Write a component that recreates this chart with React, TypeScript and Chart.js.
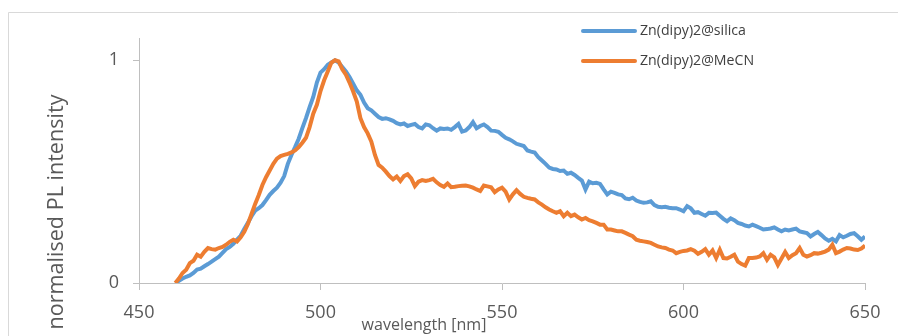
import React, { useEffect, useRef } from "react";
import { Chart, registerables } from "chart.js";

Chart.register(...registerables);

const wavelengths = [
  460, 461, 462, 463, 464, 465, 466, 467, 468, 469, 470, 471, 472, 473, 474, 475, 476, 477, 478, 479,
  480, 481, 482, 483, 484, 485, 486, 487, 488, 489, 490, 491, 492, 493, 494, 495, 496, 497, 498, 499,
  500, 501, 502, 503, 504, 505, 506, 507, 508, 509, 510, 511, 512, 513, 514, 515, 516, 517, 518, 519,
  520, 521, 522, 523, 524, 525, 526, 527, 528, 529, 530, 531, 532, 533, 534, 535, 536, 537, 538, 539,
  540, 541, 542, 543, 544, 545, 546, 547, 548, 549, 550, 551, 552, 553, 554, 555, 556, 557, 558, 559,
  560, 561, 562, 563, 564, 565, 566, 567, 568, 569, 570, 571, 572, 573, 574, 575, 576, 577, 578, 579,
  580, 581, 582, 583, 584, 585, 586, 587, 588, 589, 590, 591, 592, 593, 594, 595, 596, 597, 598, 599,
  600, 601, 602, 603, 604, 605, 606, 607, 608, 609, 610, 611, 612, 613, 614, 615, 616, 617, 618, 619,
  620, 621, 622, 623, 624, 625, 626, 627, 628, 629, 630, 631, 632, 633, 634, 635, 636, 637, 638, 639,
  640, 641, 642, 643, 644, 645, 646, 647, 648, 649, 650,
];

const silica = [
  0, 0.01, 0.02, 0.028, 0.034, 0.045, 0.06, 0.064, 0.075, 0.085, 0.096, 0.107, 0.118, 0.135, 0.152, 0.162, 0.176, 0.195, 0.212, 0.242,
  0.27, 0.3, 0.325, 0.336, 0.35, 0.372, 0.396, 0.413, 0.428, 0.45, 0.48, 0.535, 0.575, 0.61, 0.648, 0.695, 0.74, 0.79, 0.835, 0.9,
  0.945, 0.96, 0.98, 0.99, 1.0, 0.99, 0.97, 0.95, 0.925, 0.895, 0.865, 0.845, 0.81, 0.785, 0.775, 0.76, 0.745, 0.737, 0.74, 0.735,
  0.728, 0.718, 0.712, 0.716, 0.705, 0.71, 0.714, 0.7, 0.694, 0.712, 0.708, 0.695, 0.684, 0.694, 0.692, 0.694, 0.688, 0.7, 0.714, 0.68,
  0.685, 0.7, 0.722, 0.695, 0.705, 0.712, 0.7, 0.684, 0.683, 0.679, 0.665, 0.652, 0.645, 0.636, 0.625, 0.62, 0.615, 0.595, 0.59, 0.586,
  0.565, 0.55, 0.535, 0.518, 0.512, 0.51, 0.503, 0.505, 0.49, 0.495, 0.485, 0.472, 0.46, 0.42, 0.455, 0.448, 0.45, 0.445, 0.42, 0.398,
  0.41, 0.405, 0.398, 0.395, 0.38, 0.376, 0.383, 0.37, 0.364, 0.36, 0.362, 0.367, 0.35, 0.342, 0.34, 0.342, 0.338, 0.336, 0.336, 0.33,
  0.322, 0.345, 0.335, 0.315, 0.318, 0.31, 0.302, 0.315, 0.314, 0.316, 0.302, 0.288, 0.277, 0.29, 0.282, 0.27, 0.265, 0.258, 0.254, 0.262,
  0.255, 0.248, 0.24, 0.242, 0.245, 0.25, 0.24, 0.232, 0.24, 0.236, 0.24, 0.244, 0.232, 0.228, 0.224, 0.209, 0.22, 0.229, 0.215, 0.2,
  0.19, 0.198, 0.187, 0.215, 0.205, 0.212, 0.22, 0.224, 0.21, 0.194, 0.209,
];

const mecn = [
  0, 0.02, 0.045, 0.06, 0.089, 0.1, 0.127, 0.118, 0.14, 0.157, 0.152, 0.15, 0.157, 0.162, 0.172, 0.185, 0.194, 0.186, 0.205, 0.23,
  0.265, 0.31, 0.355, 0.395, 0.44, 0.475, 0.505, 0.535, 0.558, 0.57, 0.575, 0.58, 0.586, 0.595, 0.61, 0.63, 0.652, 0.7, 0.76, 0.8,
  0.862, 0.91, 0.95, 0.99, 1.0, 0.995, 0.96, 0.935, 0.9, 0.86, 0.815, 0.74, 0.7, 0.672, 0.635, 0.575, 0.53, 0.518, 0.5, 0.48,
  0.465, 0.478, 0.458, 0.48, 0.488, 0.47, 0.435, 0.455, 0.462, 0.458, 0.462, 0.468, 0.452, 0.44, 0.432, 0.447, 0.43, 0.432, 0.435, 0.437,
  0.438, 0.434, 0.428, 0.42, 0.413, 0.438, 0.434, 0.43, 0.408, 0.42, 0.428, 0.41, 0.375, 0.398, 0.417, 0.4, 0.387, 0.382, 0.378, 0.375,
  0.362, 0.352, 0.34, 0.33, 0.322, 0.315, 0.322, 0.3, 0.315, 0.3, 0.307, 0.295, 0.285, 0.292, 0.282, 0.277, 0.27, 0.262, 0.262, 0.24,
  0.24, 0.236, 0.232, 0.232, 0.225, 0.217, 0.21, 0.194, 0.19, 0.187, 0.184, 0.18, 0.172, 0.164, 0.16, 0.157, 0.15, 0.146, 0.134, 0.14,
  0.144, 0.146, 0.152, 0.145, 0.131, 0.14, 0.152, 0.127, 0.146, 0.112, 0.149, 0.112, 0.11, 0.118, 0.127, 0.096, 0.085, 0.078, 0.112, 0.112,
  0.114, 0.119, 0.134, 0.104, 0.127, 0.115, 0.081, 0.11, 0.139, 0.112, 0.125, 0.134, 0.157, 0.127, 0.119, 0.125, 0.134, 0.132, 0.136, 0.141,
  0.15, 0.172, 0.134, 0.141, 0.15, 0.157, 0.155, 0.15, 0.148, 0.155, 0.168,
];

const seriesNames = ["Zn(dipy)2@silica", "Zn(dipy)2@MeCN"];
const seriesColors = ["#5B9BD5", "#ED7D31"];
const yTickValues = [0, 1];
const xTitle = "wavelength [nm]";
const yTitle = "normalised PL intensity";

const FONT = "'Open Sans', 'Liberation Sans', sans-serif";

function fitFont(ctx: CanvasRenderingContext2D, text: string, width: number) {
  ctx.font = `20px ${FONT}`;
  const w = ctx.measureText(text).width;
  return (20 * width) / w;
}

const decorPlugin = {
  id: "decor",
  beforeDraw(chart: any) {
    const ctx = chart.ctx as CanvasRenderingContext2D;
    ctx.save();
    ctx.fillStyle = "#ffffff";
    ctx.fillRect(0, 0, chart.width, chart.height);
    ctx.strokeStyle = "#d9d9d9";
    ctx.lineWidth = 1;
    ctx.beginPath();
    ctx.moveTo(0.5, chart.height);
    ctx.lineTo(0.5, 4.5);
    ctx.lineTo(chart.width, 4.5);
    ctx.stroke();
    ctx.restore();
  },
  afterDraw(chart: any) {
    const ctx = chart.ctx as CanvasRenderingContext2D;
    ctx.save();
    const ys = fitFont(ctx, yTitle, 235);
    ctx.font = `${ys}px ${FONT}`;
    ctx.fillStyle = "#595959";
    ctx.textAlign = "center";
    ctx.textBaseline = "middle";
    ctx.translate(49, 204);
    ctx.rotate(-Math.PI / 2);
    ctx.fillText(yTitle, 0, 0);
    ctx.restore();

    ctx.save();
    const xs = fitFont(ctx, xTitle, 125);
    ctx.font = `${xs}px ${FONT}`;
    ctx.fillStyle = "#595959";
    ctx.textAlign = "center";
    ctx.textBaseline = "middle";
    ctx.fillText(xTitle, 416, 317);
    ctx.restore();

    ctx.save();
    const ls = fitFont(ctx, seriesNames[0], 106);
    ctx.font = `${ls}px ${FONT}`;
    ctx.textAlign = "left";
    ctx.textBaseline = "middle";
    const rows = [23, 53];
    seriesNames.forEach((name, i) => {
      ctx.strokeStyle = seriesColors[i];
      ctx.lineWidth = 4;
      ctx.lineCap = "round";
      ctx.beginPath();
      ctx.moveTo(575, rows[i]);
      ctx.lineTo(627, rows[i]);
      ctx.stroke();
      ctx.fillStyle = "#404040";
      ctx.fillText(name, 632, rows[i]);
    });
    ctx.restore();
  },
};

export default function App() {
  const ref = useRef<HTMLCanvasElement | null>(null);
  useEffect(() => {
    if (!ref.current) return;
    const chart = new Chart(ref.current, {
      type: "line",
      data: {
        datasets: [
          {
            label: seriesNames[0],
            data: wavelengths.map((w, i) => ({ x: w, y: silica[i] })),
            borderColor: seriesColors[0],
            backgroundColor: seriesColors[0],
            borderWidth: 4,
            pointRadius: 0,
            tension: 0,
            order: 2,
          },
          {
            label: seriesNames[1],
            data: wavelengths.map((w, i) => ({ x: w, y: mecn[i] })),
            borderColor: seriesColors[1],
            backgroundColor: seriesColors[1],
            borderWidth: 4,
            pointRadius: 0,
            tension: 0,
            order: 1,
          },
        ],
      },
      options: {
        responsive: false,
        animation: false,
        layout: { padding: { top: 30, right: 41, left: 0, bottom: 0 } },
        plugins: {
          legend: { display: false },
          tooltip: { enabled: false },
          title: { display: false },
        },
        scales: {
          x: {
            type: "linear",
            min: 450,
            max: 650,
            ticks: {
              stepSize: 50,
              color: "#595959",
              font: { family: FONT, size: 18 },
              padding: 12,
              maxRotation: 0,
            },
            grid: {
              display: true,
              drawOnChartArea: false,
              drawTicks: true,
              tickLength: 7,
              color: "#bfbfbf",
            },
            border: { display: true, color: "#bfbfbf", width: 1 },
            afterFit: (s: any) => {
              s.height = 53;
            },
          },
          y: {
            type: "linear",
            min: 0,
            max: 1.1,
            afterBuildTicks: (s: any) => {
              s.ticks = yTickValues.map((v) => ({ value: v }));
            },
            ticks: {
              color: "#595959",
              font: { family: FONT, size: 18 },
              padding: 14,
            },
            grid: {
              display: true,
              drawOnChartArea: false,
              drawTicks: true,
              tickLength: 6,
              color: "#bfbfbf",
            },
            border: { display: true, color: "#bfbfbf", width: 1 },
            afterFit: (s: any) => {
              s.width = 131;
            },
          },
        },
      },
      plugins: [decorPlugin],
    });
    return () => chart.destroy();
  }, []);
  return <canvas ref={ref} width={898} height={328} style={{ display: "block" }} />;
}
